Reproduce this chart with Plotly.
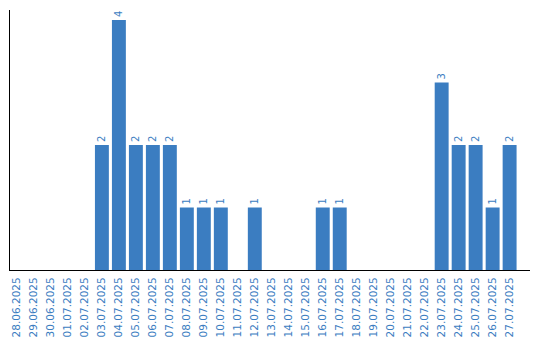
import plotly.graph_objects as go

dates = ["28.06.2025", "29.06.2025", "30.06.2025", "01.07.2025", "02.07.2025",
         "03.07.2025", "04.07.2025", "05.07.2025", "06.07.2025", "07.07.2025",
         "08.07.2025", "09.07.2025", "10.07.2025", "11.07.2025", "12.07.2025",
         "13.07.2025", "14.07.2025", "15.07.2025", "16.07.2025", "17.07.2025",
         "18.07.2025", "19.07.2025", "20.07.2025", "21.07.2025", "22.07.2025",
         "23.07.2025", "24.07.2025", "25.07.2025", "26.07.2025", "27.07.2025"]
values = [0, 0, 0, 0, 0,
          2, 4, 2, 2, 2,
          1, 1, 1, 0, 1,
          0, 0, 0, 1, 1,
          0, 0, 0, 0, 0,
          3, 2, 2, 1, 2]

labels = [str(v) if v else "" for v in values]
blue = "#3b7dc1"

fig = go.Figure(go.Bar(
    x=dates, y=values, text=labels, textposition="outside", textangle=-90,
    textfont=dict(family="DejaVu Sans", size=10, color=blue),
    marker=dict(color=blue, line=dict(width=0)),
    cliponaxis=False, hoverinfo="skip",
))

fig.update_layout(
    width=540, height=340,
    margin=dict(l=10, r=9.5, t=10, b=70),
    plot_bgcolor="white", paper_bgcolor="white",
    bargap=0.18, showlegend=False,
)
fig.update_xaxes(
    type="category", range=[-0.41, 30.2], tickangle=-90, automargin=False,
    tickfont=dict(family="DejaVu Sans", size=10.5, color=blue),
    ticklabelstandoff=2,
    showline=True, linecolor="black", linewidth=1.2, ticks="", showgrid=False,
)
fig.update_yaxes(
    range=[0, 4.16], showline=True, linecolor="black", linewidth=1.2,
    showticklabels=False, ticks="", showgrid=False, zeroline=False,
    automargin=False,
)

fig.write_html("out.html")
